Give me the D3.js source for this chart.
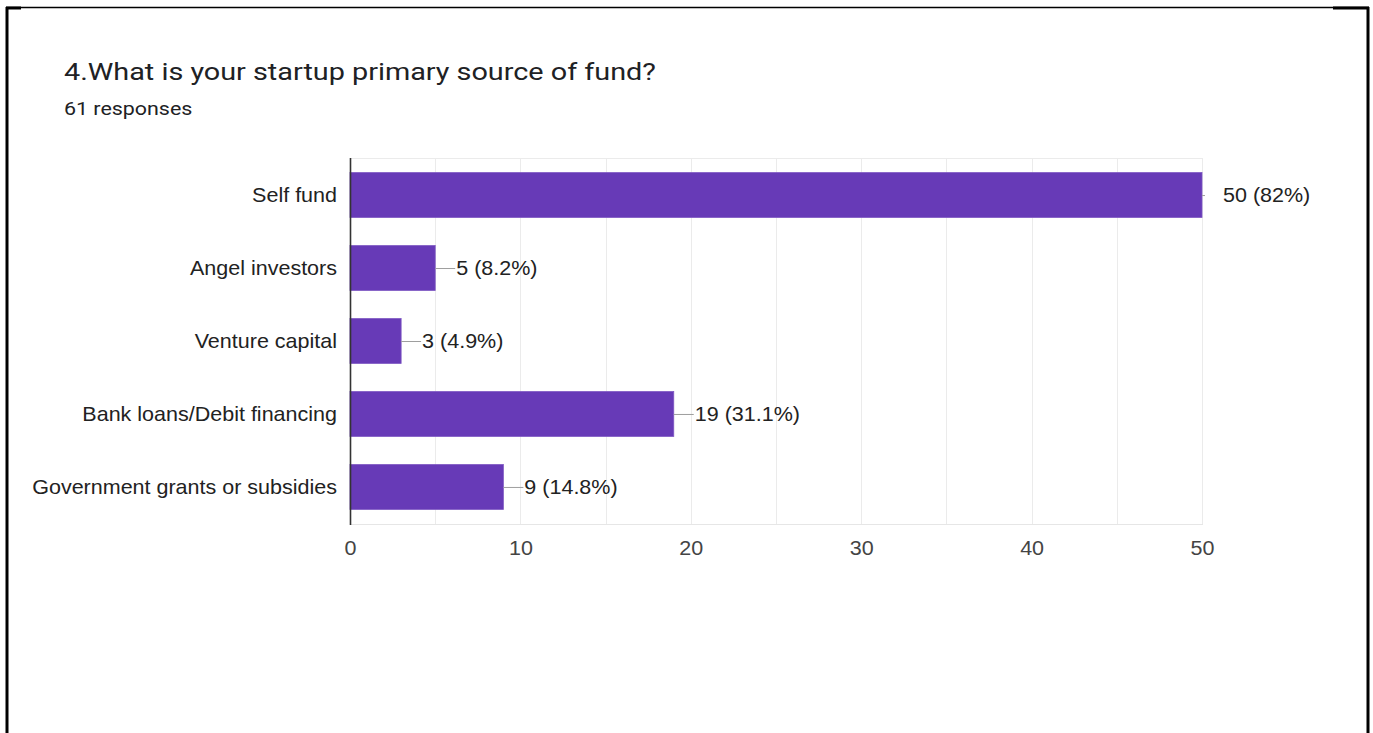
<!DOCTYPE html>
<html>
<head>
<meta charset="utf-8">
<script src="https://cdn.jsdelivr.net/npm/d3@7"></script>
<style>
  html, body { margin: 0; padding: 0; background: #fff; }
  svg { display: block; }
</style>
</head>
<body>
<svg id="chart" width="1373" height="733"></svg>
<script>
// Survey question: primary source of funding for startups (61 responses)
const categories = [
  "Self fund",
  "Angel investors",
  "Venture capital",
  "Bank loans/Debit financing",
  "Government grants or subsidies"
];
const counts = [50, 5, 3, 19, 9];
const percentLabels = ["82%", "8.2%", "4.9%", "31.1%", "14.8%"];
const tickValues = [0, 10, 20, 30, 40, 50];
const gridValues = [0, 5, 10, 15, 20, 25, 30, 35, 40, 45, 50];

const title = "4.What is your startup primary source of fund?";
const subtitle = "61 responses";

const svg = d3.select("#chart");
const W = 1373, H = 733;

// Fonts: heading face is wide, so Roboto is widened; labels use a slightly widened Arial
const headFont = "Roboto, Arial, sans-serif";
const font = "Arial, 'Liberation Sans', sans-serif";
const labelSize = 20.5, labelWiden = 1.05;

// Card frame
const frame = svg.append("g").attr("fill", "none").attr("stroke", "#000");
frame.append("line").attr("x1", 7).attr("x2", 7).attr("y1", 7).attr("y2", H).attr("stroke-width", 3);
frame.append("line").attr("x1", 1368).attr("x2", 1368).attr("y1", 7).attr("y2", H).attr("stroke-width", 3);
frame.append("line").attr("x1", 6).attr("x2", 1369).attr("y1", 7.5).attr("y2", 7.5).attr("stroke-width", 1.5);
frame.append("line").attr("x1", 6).attr("x2", 21).attr("y1", 8).attr("y2", 8).attr("stroke-width", 3);
frame.append("line").attr("x1", 1333).attr("x2", 1369).attr("y1", 8).attr("y2", 8).attr("stroke-width", 3);

// Heading
svg.append("text")
  .attr("transform", "translate(64,79.5) scale(1.2,1)")
  .attr("font-family", headFont)
  .attr("font-size", 24)
  .attr("fill", "#202124")
  .text(title);
svg.append("text")
  .attr("transform", "translate(64,115) scale(1.19,1)")
  .attr("font-family", headFont)
  .attr("font-size", 18)
  .attr("fill", "#202124")
  .text(subtitle);

// Plot area
const plot = { left: 350, right: 1202, top: 158, bottom: 524 };

const x = d3.scaleLinear().domain([0, 50]).range([plot.left, plot.right]);
const y = d3.scaleBand().domain(categories).range([plot.top, plot.bottom])
  .paddingInner(0.385).paddingOuter(0.2);

// Gridlines
svg.append("g").selectAll("line").data(gridValues).join("line")
  .attr("x1", d => Math.round(x(d)) + 0.5).attr("x2", d => Math.round(x(d)) + 0.5)
  .attr("y1", plot.top).attr("y2", plot.bottom)
  .attr("stroke", "#ebebeb").attr("stroke-width", 1);
svg.append("line")
  .attr("x1", plot.left).attr("x2", plot.right + 1)
  .attr("y1", plot.top + 0.5).attr("y2", plot.top + 0.5)
  .attr("stroke", "#ebebeb");
svg.append("line")
  .attr("x1", plot.left).attr("x2", plot.right + 1)
  .attr("y1", plot.bottom + 0.5).attr("y2", plot.bottom + 0.5)
  .attr("stroke", "#e6e6e6");

// Bars
svg.append("g").selectAll("rect").data(categories).join("rect")
  .attr("x", x(0))
  .attr("y", d => y(d))
  .attr("width", (d, i) => x(counts[i]) - x(0))
  .attr("height", y.bandwidth())
  .attr("fill", "#673ab7")
  .attr("stroke", "#7e57c2")
  .attr("stroke-width", 0.8);

// Value stems (clipped just past the plot's right edge)
svg.append("clipPath").attr("id", "stemClip")
  .append("rect").attr("x", plot.left).attr("y", 0)
  .attr("width", plot.right - plot.left + 3).attr("height", H);
svg.append("g").attr("clip-path", "url(#stemClip)")
  .selectAll("line").data(categories).join("line")
  .attr("x1", (d, i) => x(counts[i]))
  .attr("x2", (d, i) => x(counts[i]) + 20)
  .attr("y1", d => y(d) + y.bandwidth() / 2 + 0.5)
  .attr("y2", d => y(d) + y.bandwidth() / 2 + 0.5)
  .attr("stroke", "#9e9e9e").attr("stroke-width", 1);

// Value labels
svg.append("g").selectAll("text").data(categories).join("text")
  .attr("transform", (d, i) =>
    `translate(${x(counts[i]) + 21},${y(d) + y.bandwidth() / 2}) scale(${labelWiden},1)`)
  .attr("dy", "0.34em")
  .attr("font-family", font).attr("font-size", labelSize)
  .attr("fill", "#222")
  .text((d, i) => `${counts[i]} (${percentLabels[i]})`);

// Category axis
const yAxis = svg.append("g")
  .attr("transform", `translate(${plot.left - 13},0)`)
  .call(d3.axisLeft(y).tickSize(0).tickPadding(0));
yAxis.select(".domain").remove();
yAxis.selectAll("text")
  .attr("x", 0)
  .attr("dy", "0.34em")
  .attr("transform", `scale(${labelWiden},1)`)
  .attr("font-family", font).attr("font-size", labelSize).attr("fill", "#222");
svg.append("line")
  .attr("x1", plot.left + 0.5).attr("x2", plot.left + 0.5)
  .attr("y1", plot.top).attr("y2", plot.bottom + 1)
  .attr("stroke", "#333").attr("stroke-width", 1.6);

// Value axis
const xAxis = svg.append("g")
  .attr("transform", `translate(0,${plot.bottom})`)
  .call(d3.axisBottom(x).tickValues(tickValues).tickSize(0).tickPadding(16));
xAxis.select(".domain").remove();
xAxis.selectAll("text")
  .attr("transform", `scale(${labelWiden},1)`)
  .attr("font-family", font).attr("font-size", labelSize).attr("fill", "#444");
</script>
</body>
</html>
